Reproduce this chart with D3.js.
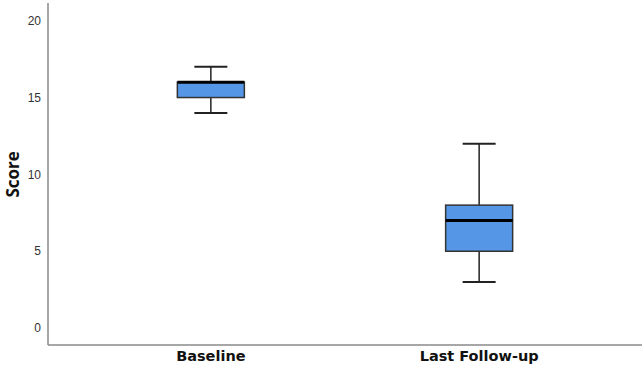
<!DOCTYPE html>
<html>
<head>
<meta charset="utf-8">
<script src="https://cdn.jsdelivr.net/npm/d3@7"></script>
<style>
  body { margin: 0; background: #fff; }
  .tick-label { font-family: "Liberation Sans", Arial, sans-serif; font-size: 12px; fill: #333; }
  .cat-label { font-family: "DejaVu Sans", sans-serif; font-weight: bold; font-size: 14.5px; fill: #111; }
  .side-text { font-family: "Open Sans", sans-serif; font-weight: bold; font-size: 17px; fill: #111; }
</style>
</head>
<body>
<svg></svg>
<script>
const width = 644;
const height = 374;
const margin = {top: 3, right: 2, left: 48, bottom: 29};

// box summaries
const categories = ['Baseline', 'Last Follow-up'];
const whiskerLow = [14, 3];
const q1 = [15, 5];
const medians = [16, 7];
const q3 = [16, 8];
const whiskerHigh = [17, 12];
const yTicks = [0, 5, 10, 15, 20];

const boxes = categories.map((c, i) => ({
  name: c, lo: whiskerLow[i], q1: q1[i], med: medians[i], q3: q3[i], hi: whiskerHigh[i]
}));

const svg = d3.select('svg')
  .attr('width', width)
  .attr('height', height);

const xScale = d3.scalePoint()
  .domain(categories)
  .range([margin.left, width - margin.right])
  .padding(0.607);

const yScale = d3.scaleLinear()
  .domain([-1.1, 21.15])
  .range([height - margin.bottom, margin.top]);

const boxW = 67;
const capW = 33;

// axes
svg.append('line')
  .attr('x1', margin.left).attr('x2', margin.left)
  .attr('y1', margin.top).attr('y2', height - margin.bottom)
  .attr('stroke', '#8a8a8a').attr('stroke-width', 1.5);

svg.append('line')
  .attr('x1', margin.left).attr('x2', width - margin.right)
  .attr('y1', height - margin.bottom).attr('y2', height - margin.bottom)
  .attr('stroke', '#8a8a8a').attr('stroke-width', 1.5);

svg.selectAll('.tick-label')
  .data(yTicks)
  .enter().append('text')
    .attr('class', 'tick-label')
    .attr('x', 41)
    .attr('y', d => yScale(d))
    .attr('dy', '0.35em')
    .attr('text-anchor', 'end')
    .text(d => d);

svg.selectAll('.cat-label')
  .data(categories)
  .enter().append('text')
    .attr('class', 'cat-label')
    .attr('x', d => xScale(d))
    .attr('y', 361)
    .attr('text-anchor', 'middle')
    .text(d => d);

svg.append('text')
  .attr('class', 'side-text')
  .attr('transform', `translate(19, ${yScale(10)}) rotate(-90)`)
  .attr('text-anchor', 'middle')
  .text('Score');

const g = svg.selectAll('.box')
  .data(boxes)
  .enter().append('g')
    .attr('class', 'box');

// whiskers
g.append('line')
  .attr('x1', d => xScale(d.name)).attr('x2', d => xScale(d.name))
  .attr('y1', d => yScale(d.hi)).attr('y2', d => yScale(d.q3))
  .attr('stroke', '#222').attr('stroke-width', 1.5);
g.append('line')
  .attr('x1', d => xScale(d.name)).attr('x2', d => xScale(d.name))
  .attr('y1', d => yScale(d.q1)).attr('y2', d => yScale(d.lo))
  .attr('stroke', '#222').attr('stroke-width', 1.5);

// caps
g.append('line')
  .attr('x1', d => xScale(d.name) - capW / 2).attr('x2', d => xScale(d.name) + capW / 2)
  .attr('y1', d => yScale(d.hi)).attr('y2', d => yScale(d.hi))
  .attr('stroke', '#222').attr('stroke-width', 2);
g.append('line')
  .attr('x1', d => xScale(d.name) - capW / 2).attr('x2', d => xScale(d.name) + capW / 2)
  .attr('y1', d => yScale(d.lo)).attr('y2', d => yScale(d.lo))
  .attr('stroke', '#222').attr('stroke-width', 2);

// box
g.append('rect')
  .attr('x', d => xScale(d.name) - boxW / 2)
  .attr('width', boxW)
  .attr('y', d => yScale(d.q3))
  .attr('height', d => yScale(d.q1) - yScale(d.q3))
  .attr('fill', '#5597e6')
  .attr('stroke', '#333').attr('stroke-width', 1.5);

// median
g.append('line')
  .attr('x1', d => xScale(d.name) - boxW / 2).attr('x2', d => xScale(d.name) + boxW / 2)
  .attr('y1', d => yScale(d.med)).attr('y2', d => yScale(d.med))
  .attr('stroke', '#000').attr('stroke-width', 3);
</script>
</body>
</html>
